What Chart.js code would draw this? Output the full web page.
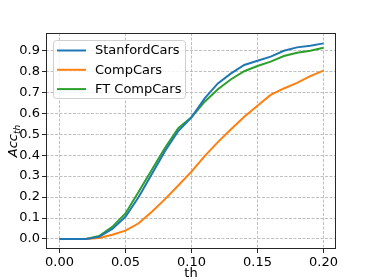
<!DOCTYPE html>
<html>
<head>
<meta charset="utf-8">
<script src="https://cdn.jsdelivr.net/npm/chart.js@4.4.0/dist/chart.umd.min.js"></script>
<style>
  html, body { margin: 0; padding: 0; background: #fff; }
  #wrap { width: 374px; height: 280px; }
</style>
</head>
<body>
<div id="wrap"><canvas id="c" width="374" height="280"></canvas></div>
<script>
const thresholds = [0.00,0.01,0.02,0.03,0.04,0.05,0.06,0.07,0.08,0.09,0.10,0.11,0.12,0.13,0.14,0.15,0.16,0.17,0.18,0.19,0.20];
const stanfordCars = [0,0,0,0.010,0.048,0.106,0.200,0.310,0.420,0.515,0.580,0.671,0.742,0.790,0.830,0.850,0.870,0.898,0.914,0.922,0.933];
const compCars     = [0,0,0,0.005,0.020,0.040,0.075,0.130,0.190,0.255,0.321,0.395,0.462,0.523,0.583,0.636,0.687,0.718,0.745,0.777,0.803];
const ftCompCars   = [0,0,0,0.014,0.058,0.122,0.225,0.330,0.435,0.528,0.580,0.655,0.714,0.762,0.800,0.825,0.846,0.873,0.888,0.898,0.912];
const seriesLabels = ['StanfordCars','CompCars','FT CompCars'];
const seriesColors = ['#1f77b4','#ff7f0e','#2ca02c'];
const xTicks = [0.00,0.05,0.10,0.15,0.20];
const yTicks = [0.0,0.1,0.2,0.3,0.4,0.5,0.6,0.7,0.8,0.9];
const xLabel = 'th';
const yLabelMain = 'Acc';
const yLabelSub = 'th';

const FONT = 'DejaVu Sans';
const allSeries = [stanfordCars, compCars, ftCompCars];

const datasets = allSeries.map((arr, i) => ({
  label: seriesLabels[i],
  data: thresholds.map((t, j) => ({x: t, y: arr[j]})),
  borderColor: seriesColors[i],
  backgroundColor: seriesColors[i],
  borderWidth: 2,
  pointRadius: 0,
  tension: 0,
  fill: false
}));

const framePlugin = {
  id: 'framePlugin',
  afterDatasetsDraw(chart) {
    const {ctx, chartArea: a} = chart;
    ctx.save();
    ctx.strokeStyle = '#262626';
    ctx.lineWidth = 1;
    ctx.strokeRect(Math.round(a.left) + 0.5, Math.round(a.top) + 0.5, Math.round(a.right - a.left) - 1, Math.round(a.bottom - a.top) - 1);
    ctx.restore();
  },
  afterDraw(chart) {
    const {ctx, chartArea: a} = chart;
    ctx.save();
    // legend box
    const bx = a.left + 7.5, by = a.top + 7.5, bw = 132, bh = 58, r = 3;
    ctx.beginPath();
    ctx.moveTo(bx + r, by);
    ctx.lineTo(bx + bw - r, by);
    ctx.arcTo(bx + bw, by, bx + bw, by + r, r);
    ctx.lineTo(bx + bw, by + bh - r);
    ctx.arcTo(bx + bw, by + bh, bx + bw - r, by + bh, r);
    ctx.lineTo(bx + r, by + bh);
    ctx.arcTo(bx, by + bh, bx, by + bh - r, r);
    ctx.lineTo(bx, by + r);
    ctx.arcTo(bx, by, bx + r, by, r);
    ctx.closePath();
    ctx.fillStyle = 'rgba(255,255,255,0.8)';
    ctx.fill();
    ctx.strokeStyle = '#d0d0d0';
    ctx.lineWidth = 1;
    ctx.stroke();
    ctx.font = '13px "' + FONT + '"';
    ctx.textBaseline = 'middle';
    ctx.fillStyle = '#000';
    chart.data.datasets.forEach((ds, i) => {
      const yy = a.top + 17.5 + i * 19.3;
      ctx.strokeStyle = ds.borderColor;
      ctx.lineWidth = 2;
      ctx.beginPath();
      ctx.moveTo(a.left + 11, yy);
      ctx.lineTo(a.left + 40, yy);
      ctx.stroke();
      ctx.fillText(ds.label, a.left + 49, yy + 0.5);
    });
    // axis titles
    ctx.textBaseline = 'middle';
    ctx.textAlign = 'center';
    ctx.font = '13px "' + FONT + '"';
    ctx.fillText(xLabel, (a.left + a.right) / 2, 274);
    // y title with subscript
    ctx.translate(17, (a.top + a.bottom) / 2);
    ctx.rotate(-Math.PI / 2);
    ctx.textAlign = 'left';
    ctx.textBaseline = 'alphabetic';
    ctx.font = 'italic 13px "' + FONT + '"';
    const wMain = ctx.measureText(yLabelMain).width;
    ctx.font = 'italic 9px "' + FONT + '"';
    const wSub = ctx.measureText(yLabelSub).width;
    const x0 = -(wMain + wSub) / 2;
    ctx.font = 'italic 13px "' + FONT + '"';
    ctx.fillText(yLabelMain, x0, 0);
    ctx.font = 'italic 9px "' + FONT + '"';
    ctx.fillText(yLabelSub, x0 + wMain, 3);
    ctx.restore();
  }
};

new Chart(document.getElementById('c'), {
  type: 'line',
  data: { datasets },
  options: {
    responsive: false,
    animation: false,
    layout: { padding: { top: 33, right: 38, left: 0, bottom: 0 } },
    plugins: { legend: { display: false }, tooltip: { enabled: false } },
    scales: {
      x: {
        type: 'linear',
        min: -0.0102,
        max: 0.2095,
        afterBuildTicks: (s) => { s.ticks = xTicks.map(v => ({value: v})); },
        afterFit: (s) => { s.height = 31; },
        ticks: {
          callback: (v) => Number(v).toFixed(2),
          font: { family: FONT, size: 13 },
          color: '#000',
          padding: 2,
          maxRotation: 0,
          autoSkip: false
        },
        grid: {
          color: '#b0b0b0',
          lineWidth: 0.8,
          tickColor: '#262626',
          tickLength: 4,
          tickWidth: 1,
          tickBorderDash: []
        },
        border: { display: false, dash: [3, 1.5] }
      },
      y: {
        type: 'linear',
        min: -0.0477,
        max: 0.9825,
        afterBuildTicks: (s) => { s.ticks = yTicks.map(v => ({value: v})); },
        afterFit: (s) => { s.width = 46; },
        ticks: {
          callback: (v) => Number(v).toFixed(1),
          font: { family: FONT, size: 13 },
          color: '#000',
          padding: 2,
          autoSkip: false
        },
        grid: {
          color: '#b0b0b0',
          lineWidth: 0.8,
          tickColor: '#262626',
          tickLength: 4,
          tickWidth: 1,
          tickBorderDash: []
        },
        border: { display: false, dash: [3, 1.5] }
      }
    }
  },
  plugins: [framePlugin]
});
</script>
</body>
</html>
